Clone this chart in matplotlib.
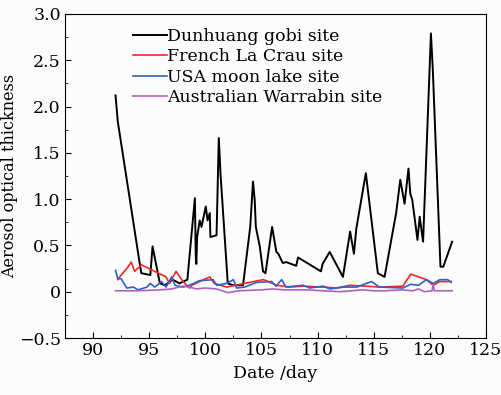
import matplotlib
matplotlib.use('Agg')
import matplotlib.pyplot as plt
from matplotlib.ticker import MultipleLocator, FuncFormatter

plt.rc('font', family='DejaVu Serif', size=12.5)

# Dunhuang gobi site
day_dh = [92.0, 92.2, 94.2, 94.3, 95.1, 95.3, 95.95, 96.4, 97.1, 97.7, 98.4,
          99.07, 99.15, 99.2, 99.27, 99.5, 99.66, 100.04, 100.2, 100.4, 100.45,
          101.0, 101.2, 101.35, 102.0, 102.45, 103.36, 104.0, 104.25, 104.4,
          104.5, 104.85, 105.14, 105.36, 105.95, 106.33, 106.5, 106.9, 107.2,
          108.1, 108.26, 110.3, 110.45, 111.08, 111.3, 112.26, 112.9, 113.24,
          113.45, 114.3, 114.45, 115.37, 115.97, 117.0, 117.37, 117.75, 118.1,
          118.26, 118.44, 118.9, 119.1, 119.4, 120.1, 120.27, 120.95, 121.2,
          121.99]
aot_dh = [2.12, 1.84, 0.27, 0.20, 0.18, 0.49, 0.09, 0.07, 0.13, 0.09, 0.13,
          1.01, 0.38, 0.30, 0.59, 0.77, 0.70, 0.92, 0.77, 0.85, 0.59,
          0.61, 1.66, 1.28, 0.09, 0.07, 0.07, 0.70, 1.19, 0.99,
          0.70, 0.49, 0.22, 0.20, 0.70, 0.43, 0.41, 0.31, 0.32,
          0.28, 0.37, 0.22, 0.30, 0.43, 0.38, 0.16, 0.65, 0.41,
          0.68, 1.28, 1.13, 0.20, 0.16, 0.85, 1.21, 0.95, 1.33,
          1.06, 0.99, 0.56, 0.81, 0.54, 2.79, 2.39, 0.27, 0.27,
          0.54]

# French La Crau site
day_fr = [92.2, 92.5, 93.0, 93.4, 93.7, 94.3, 96.5, 96.8, 97.4, 98.0, 98.6,
          98.8, 99.5, 100.4, 100.8, 101.9, 105.14, 105.4, 106.33, 107.5,
          108.7, 110.5, 111.7, 112.9, 114.3, 115.5, 117.6, 118.3, 119.7,
          120.3, 120.9, 121.9]
aot_fr = [0.13, 0.18, 0.25, 0.32, 0.22, 0.29, 0.16, 0.09, 0.22, 0.11, 0.04,
          0.07, 0.11, 0.16, 0.09, 0.05, 0.13, 0.12, 0.07, 0.05,
          0.06, 0.05, 0.04, 0.07, 0.06, 0.05, 0.06, 0.19, 0.13,
          0.07, 0.11, 0.11]

# USA moon lake site
day_us = [92.0, 92.2, 92.5, 93.0, 93.6, 94.0, 94.8, 95.1, 95.5, 96.1, 96.5,
          97.0, 97.3, 98.0, 98.6, 99.5, 100.7, 101.0, 101.9, 102.5, 102.8,
          103.5, 104.55, 105.9, 106.3, 106.8, 107.2, 108.7, 109.3, 110.5,
          111.1, 112.3, 113.5, 114.8, 115.5, 117.6, 118.3, 119.0, 119.7,
          120.3, 120.9, 121.6, 121.9]
aot_us = [0.23, 0.14, 0.14, 0.04, 0.05, 0.02, 0.05, 0.09, 0.05, 0.11, 0.05,
          0.16, 0.07, 0.05, 0.07, 0.12, 0.13, 0.07, 0.09, 0.13, 0.04,
          0.05, 0.10, 0.11, 0.06, 0.13, 0.05, 0.07, 0.04, 0.06,
          0.03, 0.05, 0.05, 0.11, 0.05, 0.04, 0.08, 0.07, 0.13,
          0.09, 0.13, 0.13, 0.10]

# Australian Warrabin site
day_au = [92.0, 94.0, 96.0, 97.0, 98.0, 98.6, 99.2, 100.0, 101.0, 102.0,
          103.0, 105.0, 106.0, 107.0, 109.0, 110.5, 112.0, 113.0, 114.0,
          115.0, 116.0, 117.5, 118.5, 119.0, 119.5, 120.2, 120.3, 120.4,
          122.0]
aot_au = [0.01, 0.01, 0.02, 0.03, 0.06, 0.05, 0.03, 0.04, 0.03, -0.01,
          0.01, 0.02, 0.03, 0.02, 0.02, 0.01, 0.00, 0.01, 0.02,
          0.01, 0.01, 0.02, 0.01, 0.03, 0.00, 0.01, 0.08, 0.01,
          0.01]

fig = plt.figure(figsize=(5.02, 3.95), dpi=100, facecolor='#fcfcfc')
ax = fig.add_axes([0.1295, 0.1443, 0.8385, 0.8203])
ax.set_facecolor('#fcfcfc')

ax.plot(day_dh, aot_dh, color='black', lw=1.4, label='Dunhuang gobi site')
ax.plot(day_fr, aot_fr, color='#f02828', lw=1.2, label='French La Crau site')
ax.plot(day_us, aot_us, color='#3060c0', lw=1.2, label='USA moon lake site')
ax.plot(day_au, aot_au, color='#b060c0', lw=1.2,
        label='Australian Warrabin site')

ax.set_xlim(87.5, 125)
ax.set_ylim(-0.5, 3.0)
ax.xaxis.set_major_locator(MultipleLocator(5))
ax.xaxis.set_minor_locator(MultipleLocator(2.5))
ax.yaxis.set_major_locator(MultipleLocator(0.5))
ax.yaxis.set_minor_locator(MultipleLocator(0.25))
ax.yaxis.set_major_formatter(FuncFormatter(
    lambda v, p: '0' if abs(v) < 1e-9 else ('%.1f' % v).replace('-', '\u2212')))
ax.tick_params(which='both', direction='in')
ax.tick_params(which='major', length=4, pad=3)
ax.tick_params(which='minor', length=2)

ax.set_xlabel('Date /day')
ax.set_ylabel('Aerosol optical thickness', fontsize=11.5)
ax.yaxis.set_label_coords(-0.112, 0.5)

ax.legend(loc='upper left', frameon=False, handlelength=2.0,
          handletextpad=0.0, labelspacing=0.2, borderaxespad=0.3,
          bbox_to_anchor=(0.132, 0.995))

fig.savefig('out.png', dpi=100, facecolor=fig.get_facecolor())
